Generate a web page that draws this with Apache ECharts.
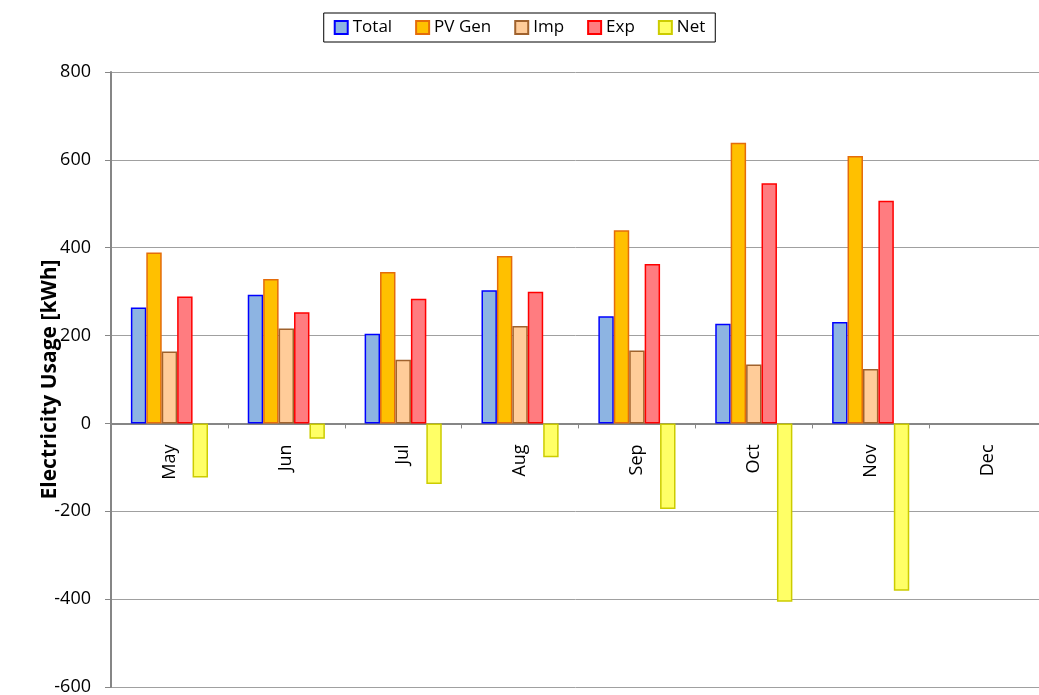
<!DOCTYPE html>
<html>
<head>
<meta charset="utf-8">
<script src="https://cdn.jsdelivr.net/npm/echarts@6/dist/echarts.min.js"></script>
<style>
  html, body { margin: 0; padding: 0; background: #fff; }
  #chart { width: 1039px; height: 695px; }
</style>
</head>
<body>
<div id="chart"></div>
<script>
// months on the x axis
const months = ['May', 'Jun', 'Jul', 'Aug', 'Sep', 'Oct', 'Nov', 'Dec'];

// monthly values, kWh (Dec has no data yet)
const total = [264, 293, 204, 303, 244, 227, 231, null];
const pvGen = [389, 329, 345, 381, 440, 639, 609, null];
const imp   = [164, 216, 145, 222, 166, 134, 124, null];
const exp   = [289, 253, 284, 300, 363, 547, 507, null];
const net   = [-123, -35, -138, -77, -195, -406, -381, null];

const yTicks = [-600, -400, -200, 0, 200, 400, 600, 800];

var font = 'Open Sans';
var gridTop = 72, gridBottom = 8;
var chartH = 695;

function bar(name, data, fill, border) {
	return {
		name: name,
		type: 'bar',
		data: data,
		barGap: '0%',
		barCategoryGap: '34%',
		itemStyle: { color: fill, borderColor: border, borderWidth: 1.5 }
	};
}

// x axis sits on the zero line: push it up from the bottom by the right amount
var yMin = yTicks[0], yMax = yTicks[yTicks.length - 1];
var plotH = chartH - gridTop - gridBottom;
var zeroOffset = -plotH * (0 - yMin) / (yMax - yMin);

var myChart = echarts.init(document.getElementById('chart'));
myChart.setOption({
	animation: false,
	textStyle: { fontFamily: font },
	legend: {
		left: 'center',
		top: 13,
		icon: 'rect',
		itemWidth: 13,
		itemHeight: 13,
		itemGap: 23,
		padding: [6, 10, 6, 10],
		borderColor: '#000',
		borderWidth: 1,
		textStyle: { fontSize: 17, color: '#000', fontFamily: font }
	},
	grid: { left: 111, right: -7, top: gridTop, bottom: gridBottom, containLabel: false, outerBoundsMode: 'none' },
	xAxis: {
		type: 'category',
		data: months,
		position: 'bottom',
		offset: zeroOffset,
		axisLine: { onZero: false, lineStyle: { color: '#868686', width: 2 } },
		axisTick: { show: true, length: 5, lineStyle: { color: '#868686' } },
		axisLabel: { rotate: 90, margin: 21, fontSize: 18, color: '#000', fontFamily: font },
		splitLine: { show: false }
	},
	yAxis: {
		type: 'value',
		min: yMin,
		max: yMax,
		interval: 200,
		name: 'Electricity Usage [kWh]',
		nameLocation: 'middle',
		nameGap: 50,
		nameMoveOverlap: false,
		nameTextStyle: { fontSize: 21, fontWeight: 'bold', color: '#000', fontFamily: font },
		axisLine: { show: true, lineStyle: { color: '#868686', width: 2 } },
		axisTick: { show: true, length: 6, lineStyle: { color: '#868686' } },
		axisLabel: { fontSize: 18, color: '#000', margin: 20, fontFamily: font },
		splitLine: { lineStyle: { color: '#a0a0a0', width: 1 } }
	},
	series: [
		bar('Total', total, '#8db4e2', '#0000ff'),
		bar('PV Gen', pvGen, '#ffc000', '#e46c0a'),
		bar('Imp', imp, '#ffcc99', '#a0622d'),
		bar('Exp', exp, '#ff7c80', '#ff0000'),
		bar('Net', net, '#ffff66', '#cccc00')
	]
});
</script>
</body>
</html>
